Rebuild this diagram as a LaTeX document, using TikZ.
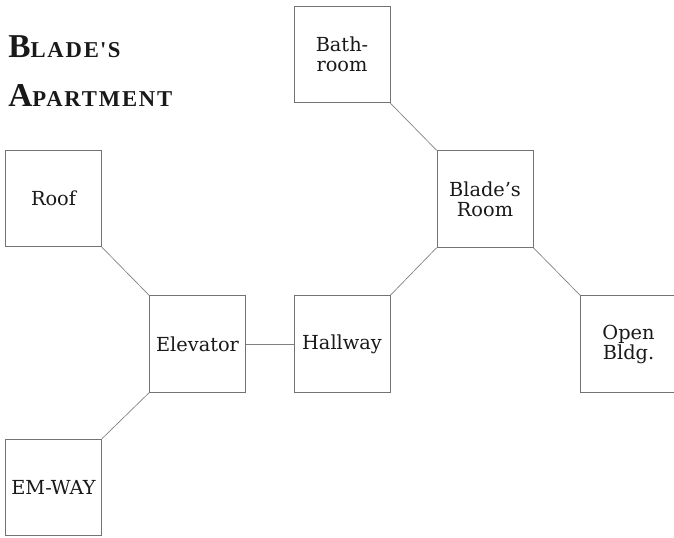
\documentclass[tikz,border=0pt]{standalone}
\usepackage{fontspec}
\setmainfont{DejaVu Serif}
\newfontfamily\titlefont{Liberation Serif}
\newcommand{\ttlbig}[1]{{\fontsize{25}{25}\selectfont #1}}
\newcommand{\ttlsmall}[1]{{\fontsize{17}{17}\selectfont\addfontfeature{LetterSpace=8}#1}}
\begin{document}
\begin{tikzpicture}[x=0.75pt,y=-0.75pt,
  room/.style={draw=black!55, line width=0.6pt, minimum width=72pt, minimum height=72.5pt,
    inner sep=0pt, align=center, text=black!90,
    font=\fontsize{14.5}{15}\selectfont},
  link/.style={draw=black!50, line width=0.5pt},
  ttl/.style={anchor=base west, inner sep=0pt, text=black!90}]
\useasboundingbox (0,0) rectangle (674,538);
\clip (0,0) rectangle (674,538);
\fill[white] (0,0) rectangle (674,538);
\node[ttl] (t1) at (8,57.7) {\titlefont\bfseries\ttlbig{B}\ttlsmall{LADE\kern1pt'\kern1pt S}};
\node[ttl] (t2) at (8,106.7) {\titlefont\bfseries\ttlbig{A}\ttlsmall{PARTMENT}};

\node[room] (bath) at (342,54.5) {Bath-\\room};
\node[room] (blade) at (485,199) {Blade's\\Room};
\node[room] (roof) at (53.5,198.5) {Roof};
\node[room] (elev) at (197.5,344) {Elevator};
\node[room] (hall) at (342,344) {Hallway};
\node[room] (open) at (628.5,344) {Open\\Bldg.};
\node[room] (emway) at (53.5,487.5) {EM-WAY};

\draw[link] (roof.south east) -- (elev.north west);
\draw[link] (elev.south west) -- (emway.north east);
\draw[link] (elev.east) -- (hall.west);
\draw[link] (hall.north east) -- (blade.south west);
\draw[link] (blade.north west) -- (bath.south east);
\draw[link] (blade.south east) -- (open.north west);
\end{tikzpicture}
\end{document}
